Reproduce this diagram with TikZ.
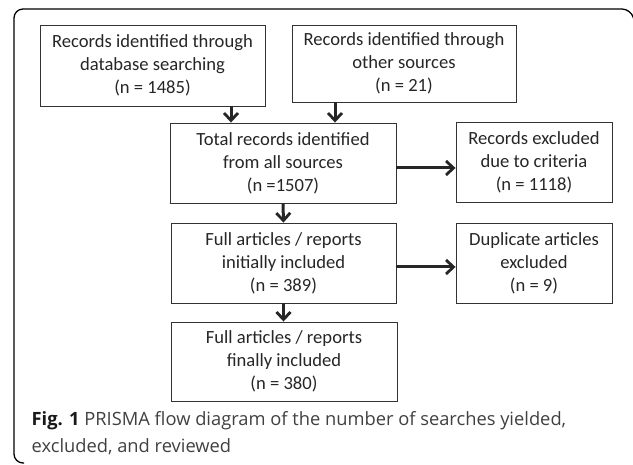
\documentclass[tikz,border=0pt]{standalone}
\usepackage{fontspec}
\setmainfont{Carlito}
\newfontfamily\capfont{Open Sans}
\usetikzlibrary{arrows.meta}
\begin{document}
\begin{tikzpicture}[x=1pt,y=-1pt,
  box/.style={draw=black!80, line width=0.9pt, inner sep=0pt, align=center,
    font=\fontsize{18.6}{23}\selectfont, text=black!85},
  arr/.style={line width=3pt, draw=black!85,
    -{Straight Barb[length=7.5pt,width=14pt,line width=2.8pt]}},
  frame/.style={line width=1.3pt, draw=black}]
\useasboundingbox (0,0) rectangle (633,465);
\draw[frame, rounded corners=9pt] (634,20) -- (631,9) -- (14,9) -- (14,463) -- (24,463);
\node[box, minimum width=225pt, minimum height=81pt] (db) at (152.5,65.5)
  {Records identified through\\database searching\\(n = 1485)};
\node[box, minimum width=224pt, minimum height=77pt] (other) at (404,63.5)
  {Records identified through\\other sources\\(n = 21)};
\node[box, minimum width=226pt, minimum height=80pt] (total) at (283,163)
  {Total records identified\\from all sources\\(n =1507)};
\node[box, minimum width=156pt, minimum height=80pt] (excl) at (534,162)
  {Records excluded\\due to criteria\\(n = 1118)};
\node[box, minimum width=225pt, minimum height=80pt] (init) at (283.5,263)
  {Full articles / reports\\initially included\\(n = 389)};
\node[box, minimum width=156pt, minimum height=80pt] (dup) at (534,263)
  {Duplicate articles\\excluded\\(n = 9)};
\node[box, minimum width=226pt, minimum height=79pt] (final) at (284,361.5)
  {Full articles / reports\\finally included\\(n = 380)};
\draw[arr] ([xshift=78.5pt]db.south) -- ([xshift=78.5pt]db.south |- total.north);
\draw[arr] ([xshift=-69pt]other.south) -- ([xshift=-69pt]other.south |- total.north);
\draw[arr] (total.south) -- (init.north);
\draw[arr] (init.south) -- (init.south |- final.north);
\draw[arr] ([yshift=-5pt]total.east) -- ([yshift=-5pt]total.east -| excl.west);
\draw[arr] ([yshift=-4pt]init.east) -- ([yshift=-4pt]init.east -| dup.west);
\node[anchor=base west, inner sep=0pt, align=left, text=black!75,
  font=\capfont\fontsize{18.3}{27}\selectfont] (cap) at (31.5,453)
  {{\bfseries\color{black!90}Fig. 1} PRISMA flow diagram of the number of searches yielded,\\excluded, and reviewed};
\end{tikzpicture}
\end{document}
